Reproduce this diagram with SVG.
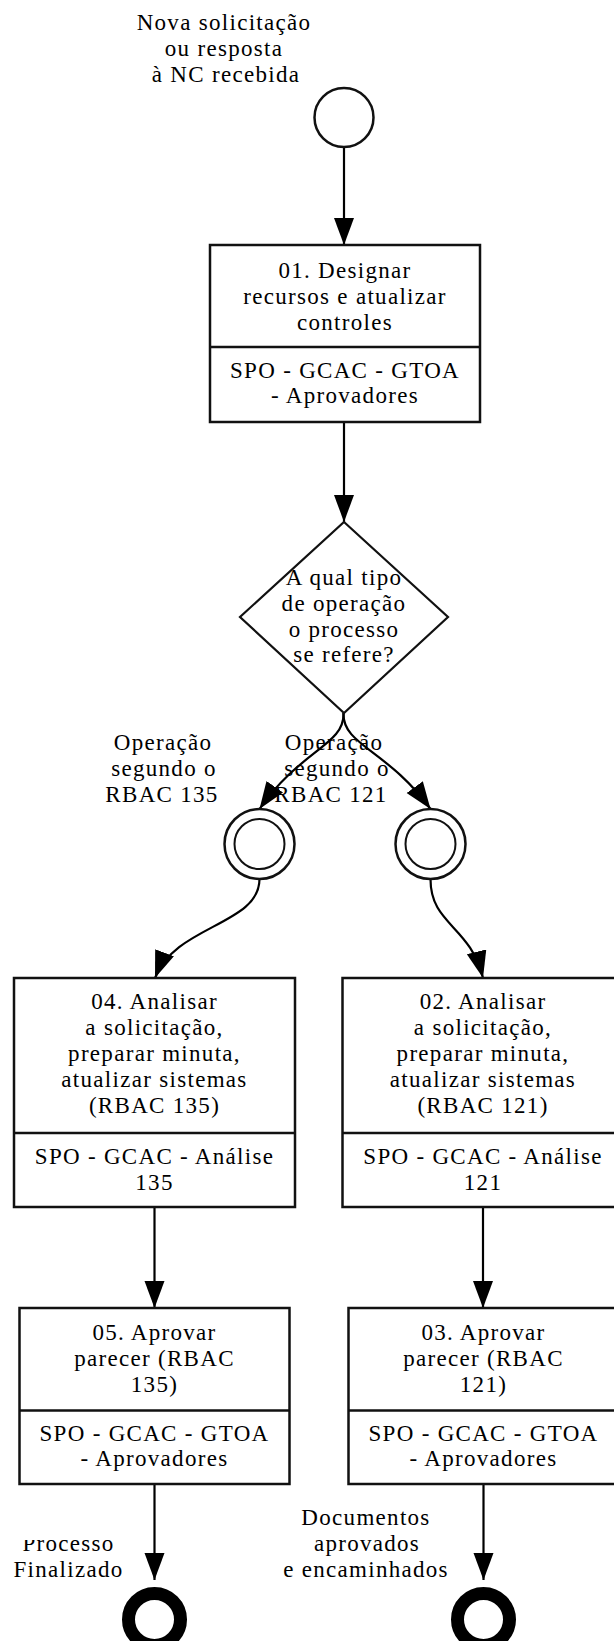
<svg xmlns="http://www.w3.org/2000/svg" width="614" height="1641" viewBox="0 0 614 1641">
<style>
text{font-family:"Liberation Serif","Times New Roman",serif;font-size:23px;letter-spacing:1.3px;fill:#000;text-anchor:middle}
.box{fill:#fff;stroke:#111;stroke-width:2.5}
.div{stroke:#111;stroke-width:2.5}
.ev{fill:#fff;stroke:#111;stroke-width:2.5}
.ev2{fill:none;stroke:#111;stroke-width:2}
.end{fill:#fff;stroke:#000;stroke-width:13}
.gw{fill:#fff;stroke:#111;stroke-width:2.2}
.con{fill:none;stroke:#000;stroke-width:2.2;marker-end:url(#arr)}
</style>
<defs>
<marker id="arr" markerUnits="userSpaceOnUse" markerWidth="28" markerHeight="22" refX="27" refY="10" orient="auto">
<path d="M0,0 L27,10 L0,20 Z" fill="#000"/>
</marker>
<clipPath id="clipProc"><rect x="0" y="1540" width="150" height="101"/></clipPath>
</defs>
<rect x="0" y="0" width="614" height="1641" fill="#fff"/>

<g id="connectors">
<path class="con" d="M344,147.5 L344,245"/>
<path class="con" d="M344,422 L344,522"/>
<path class="con" d="M343.5,713 C345,745 300,750 259.5,809"/>
<path class="con" d="M343.5,713 C342,745 388,750 430.5,809"/>
<path class="con" d="M259.5,879 C259.5,925 175,925 155,978"/>
<path class="con" d="M430.5,879 C430.5,925 470,925 483,978"/>
<path class="con" d="M154.5,1207 L154.5,1308"/>
<path class="con" d="M483,1207 L483,1308"/>
<path class="con" d="M154.5,1484 L154.5,1580"/>
<path class="con" d="M483.5,1484 L483.5,1580"/>
</g>

<g id="start">
<circle class="ev" cx="344" cy="117.5" r="29.5"/>
<text x="224" y="29.5">Nova solicitação</text>
<text x="224" y="55.5">ou resposta</text>
<text x="226" y="81.5">à NC recebida</text>
</g>

<g id="task01">
<rect class="box" x="210" y="245" width="270" height="177"/>
<line class="div" x1="210" y1="347" x2="480" y2="347"/>
<text x="345" y="278.2">01. Designar</text>
<text x="345" y="304">recursos e atualizar</text>
<text x="345" y="329.8">controles</text>
<text x="345" y="377.5">SPO - GCAC - GTOA</text>
<text x="345" y="403.3">- Aprovadores</text>
</g>

<g id="gateway">
<polygon class="gw" points="344,522 448,617 344,713 240,617"/>
<text x="344" y="585">A qual tipo</text>
<text x="344" y="610.8">de operação</text>
<text x="344" y="636.6">o processo</text>
<text x="344" y="662.4">se refere?</text>
</g>

<g id="event135">
<circle class="ev" cx="259.5" cy="844" r="35"/>
<circle class="ev2" cx="259.5" cy="844" r="25"/>
<text x="163" y="750">Operação</text>
<text x="164" y="776">segundo o</text>
<text x="162" y="802">RBAC 135</text>
</g>

<g id="event121">
<circle class="ev" cx="430.5" cy="844" r="35"/>
<circle class="ev2" cx="430.5" cy="844" r="25"/>
<text x="334" y="750">Operação</text>
<text x="337" y="776">segundo o</text>
<text x="331" y="802">RBAC 121</text>
</g>

<g id="task04">
<rect class="box" x="14" y="978" width="281" height="229"/>
<line class="div" x1="14" y1="1133" x2="295" y2="1133"/>
<text x="154.5" y="1009.4">04. Analisar</text>
<text x="154.5" y="1035.2">a solicitação,</text>
<text x="154.5" y="1061">preparar minuta,</text>
<text x="154.5" y="1086.8">atualizar sistemas</text>
<text x="154.5" y="1112.6">(RBAC 135)</text>
<text x="154.5" y="1164.1">SPO - GCAC - Análise</text>
<text x="154.5" y="1189.9">135</text>
</g>

<g id="task02">
<rect class="box" x="342.5" y="978" width="281" height="229"/>
<line class="div" x1="342.5" y1="1133" x2="623.5" y2="1133"/>
<text x="483" y="1009.4">02. Analisar</text>
<text x="483" y="1035.2">a solicitação,</text>
<text x="483" y="1061">preparar minuta,</text>
<text x="483" y="1086.8">atualizar sistemas</text>
<text x="483" y="1112.6">(RBAC 121)</text>
<text x="483" y="1164.1">SPO - GCAC - Análise</text>
<text x="483" y="1189.9">121</text>
</g>

<g id="task05">
<rect class="box" x="19.5" y="1308" width="270" height="176"/>
<line class="div" x1="19.5" y1="1410.5" x2="289.5" y2="1410.5"/>
<text x="154.5" y="1340.4">05. Aprovar</text>
<text x="154.5" y="1366.2">parecer (RBAC</text>
<text x="154.5" y="1392">135)</text>
<text x="154.5" y="1440.5">SPO - GCAC - GTOA</text>
<text x="154.5" y="1466.3">- Aprovadores</text>
</g>

<g id="task03">
<rect class="box" x="348.5" y="1308" width="270" height="176"/>
<line class="div" x1="348.5" y1="1410.5" x2="618.5" y2="1410.5"/>
<text x="483.5" y="1340.4">03. Aprovar</text>
<text x="483.5" y="1366.2">parecer (RBAC</text>
<text x="483.5" y="1392">121)</text>
<text x="483.5" y="1440.5">SPO - GCAC - GTOA</text>
<text x="483.5" y="1466.3">- Aprovadores</text>
</g>

<g id="end135">
<circle class="end" cx="154.5" cy="1619.5" r="26"/>
<g clip-path="url(#clipProc)"><text x="68.5" y="1550.5">Processo</text></g>
<text x="68.5" y="1576.5">Finalizado</text>
</g>

<g id="end121">
<circle class="end" cx="483.5" cy="1619.5" r="26"/>
<text x="366" y="1524.5">Documentos</text>
<text x="367" y="1550.5">aprovados</text>
<text x="366" y="1576.5">e encaminhados</text>
</g>
</svg>
